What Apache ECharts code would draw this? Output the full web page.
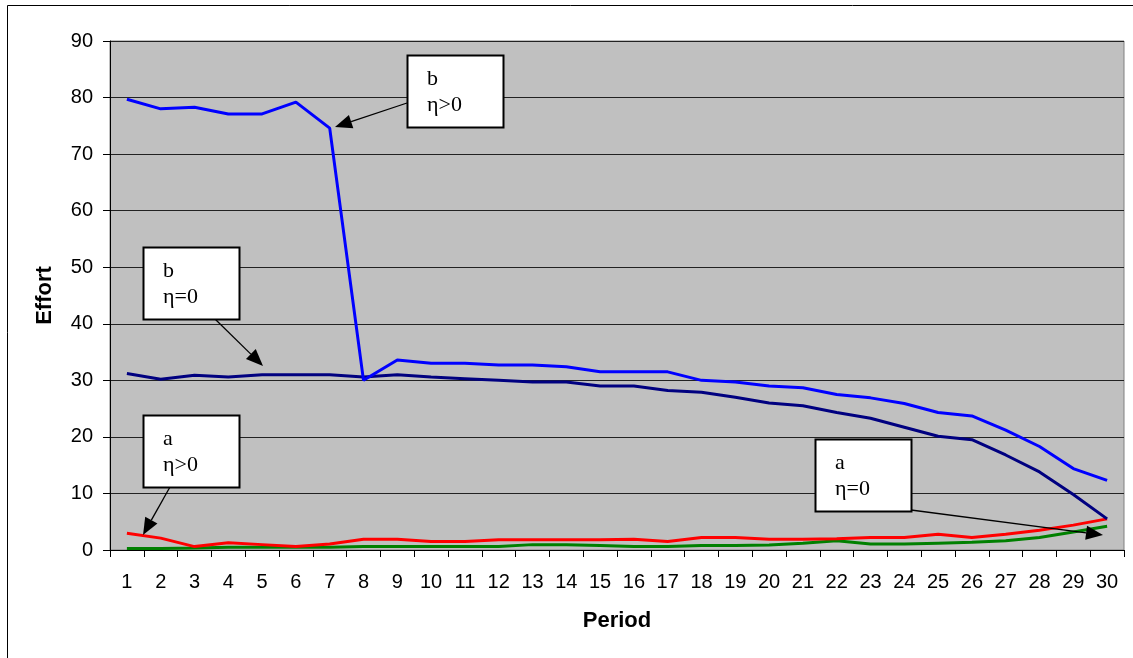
<!DOCTYPE html>
<html>
<head>
<meta charset="utf-8">
<script src="https://cdn.jsdelivr.net/npm/echarts@6/dist/echarts.min.js"></script>
<style>
html,body{margin:0;padding:0;background:#fff;}
#c{width:1133px;height:658px;}
</style>
</head>
<body>
<div id="c"></div>
<script>
var periods = ['1','2','3','4','5','6','7','8','9','10','11','12','13','14','15','16','17','18','19','20','21','22','23','24','25','26','27','28','29','30'];
var yTicks = [0,10,20,30,40,50,60,70,80,90];
var bEtaPos = [79.7,78.0,78.3,77.1,77.1,79.2,74.6,30.0,33.6,33.0,33.0,32.7,32.7,32.4,31.5,31.5,31.5,30.0,29.7,29.0,28.7,27.5,26.9,25.9,24.3,23.7,21.2,18.3,14.4,12.3];
var bEta0 = [31.2,30.2,30.9,30.6,31.0,31.0,31.0,30.6,31.0,30.6,30.3,30.0,29.7,29.7,29.0,29.0,28.2,27.9,27.0,26.0,25.5,24.3,23.3,21.7,20.1,19.5,16.8,13.8,9.8,5.5];
var aEtaPos = [2.95,2.1,0.6,1.3,0.95,0.6,1.05,1.9,1.9,1.5,1.5,1.8,1.8,1.8,1.8,1.9,1.5,2.2,2.2,1.9,1.9,2.0,2.2,2.2,2.8,2.2,2.8,3.5,4.4,5.5];
var aEta0 = [0.25,0.25,0.35,0.5,0.5,0.5,0.5,0.6,0.6,0.6,0.6,0.6,0.95,0.95,0.8,0.6,0.6,0.8,0.8,0.9,1.2,1.65,1.05,1.05,1.2,1.35,1.65,2.2,3.2,4.2];

var chart = echarts.init(document.getElementById('c'), null, {renderer:'canvas'});
var SANS = '"Liberation Sans", Arial, sans-serif';

function arrow(x1,y1,x2,y2){
  var dx=x2-x1, dy=y2-y1, L=Math.sqrt(dx*dx+dy*dy);
  var ux=dx/L, uy=dy/L, hl=17, hw=7;
  var bx=x2-ux*hl, by=y2-uy*hl;
  return [
    {type:'line', shape:{x1:x1,y1:y1,x2:bx,y2:by}, style:{stroke:'#000',lineWidth:1.3}, z:100},
    {type:'polygon', shape:{points:[[x2,y2],[bx-uy*hw,by+ux*hw],[bx+uy*hw,by-ux*hw]]}, style:{fill:'#000'}, z:100}
  ];
}
function box(x,y,l1,l2){
  return [
    {type:'rect', shape:{x:x+0.5,y:y+0.5,width:96,height:72}, style:{fill:'#fff',stroke:'#000',lineWidth:2}, z:100},
    {type:'text', x:x+20, y:y+24, style:{text:l1, font:'22px "Liberation Serif", serif', fill:'#000', textVerticalAlign:'middle'}, z:101},
    {type:'text', x:x+20, y:y+50, style:{text:l2, font:'22px "Liberation Serif", serif', fill:'#000', textVerticalAlign:'middle'}, z:101}
  ];
}

var graphics = [
  {type:'rect', shape:{x:7.5,y:5.5,width:1200,height:800}, style:{fill:'none',stroke:'#000',lineWidth:1}, z:-10}
];
graphics = graphics.concat(
  arrow(407,103,335,127),
  arrow(215,319,263,366),
  arrow(170,487,143,535),
  arrow(911,510,1103,535),
  box(407,55,'b','\u03B7>0'),
  box(143,247,'b','\u03B7=0'),
  box(143,415,'a','\u03B7>0'),
  box(815,439,'a','\u03B7=0')
);

function lineSeries(name,data,color){
  return {name:name, type:'line', data:data, symbol:'none', smooth:false,
    lineStyle:{color:color,width:3}, itemStyle:{color:color}, z:5, animation:false};
}

chart.setOption({
  animation:false,
  backgroundColor:'#fff',
  grid:{left:110,right:9,top:41,bottom:108,show:true,backgroundColor:'#C0C0C0',borderColor:'#808080',borderWidth:1},
  xAxis:{type:'category', data:periods, boundaryGap:true,
    name:'Period', nameLocation:'middle', nameGap:60,
    nameTextStyle:{fontFamily:SANS,fontWeight:'bold',fontSize:22,color:'#000'},
    axisLine:{show:true,lineStyle:{color:'#000',width:1}},
    axisTick:{show:true,alignWithLabel:false,length:7,lineStyle:{color:'#000'}},
    axisLabel:{interval:0,margin:22,fontFamily:SANS,fontSize:20,color:'#000'},
    splitLine:{show:false}},
  yAxis:{type:'value', min:yTicks[0], max:yTicks[yTicks.length-1], interval:10,
    name:'Effort', nameLocation:'middle', nameGap:54, nameRotate:90,
    nameTextStyle:{fontFamily:SANS,fontWeight:'bold',fontSize:22,color:'#000'},
    axisLine:{show:true,lineStyle:{color:'#000',width:1}},
    axisTick:{show:true,length:7,lineStyle:{color:'#000'}},
    axisLabel:{margin:17,fontFamily:SANS,fontSize:20,color:'#000'},
    splitLine:{show:true,lineStyle:{color:'#222',width:1}}},
  series:[
    lineSeries('a eta=0',aEta0,'#008000'),
    lineSeries('a eta>0',aEtaPos,'#FF0000'),
    lineSeries('b eta=0',bEta0,'#000080'),
    lineSeries('b eta>0',bEtaPos,'#0000FF')
  ],
  graphic:graphics
});
</script>
</body>
</html>
